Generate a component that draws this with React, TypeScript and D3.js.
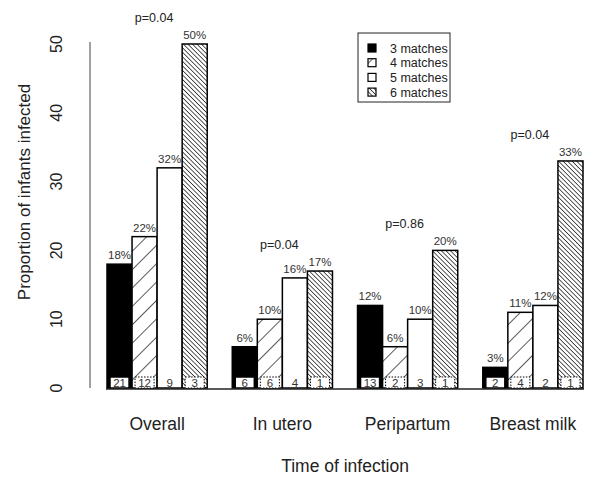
import React from "react";
import * as d3 from "d3";

const categories = ["Overall", "In utero", "Peripartum", "Breast milk"];
const seriesNames = ["3 matches", "4 matches", "5 matches", "6 matches"];
const values3 = [18, 6, 12, 3];
const values4 = [22, 10, 6, 11];
const values5 = [32, 16, 10, 12];
const values6 = [50, 17, 20, 33];
const counts3 = [21, 6, 13, 2];
const counts4 = [12, 6, 2, 4];
const counts5 = [9, 4, 3, 2];
const counts6 = [3, 1, 1, 1];
const pValues = ["p=0.04", "p=0.04", "p=0.86", "p=0.04"];
const yTicks = [0, 10, 20, 30, 40, 50];

const W = 600;
const H = 482;
const FONT = "'Liberation Sans', Arial, sans-serif";

export default function App() {
  const y = d3.scaleLinear().domain([0, 50]).range([388, 44]);
  const x0 = d3.scaleBand<string>().domain(categories).range([107, 583]).paddingInner(0.2).paddingOuter(0);
  const x1 = d3.scaleBand<string>().domain(seriesNames).range([0, x0.bandwidth()]).padding(0);
  const allValues = [values3, values4, values5, values6];
  const allCounts = [counts3, counts4, counts5, counts6];
  const fills = ["#000", "url(#hatch4)", "#fff", "url(#hatch6)"];
  const bw = x1.bandwidth();

  return (
    <svg width={W} height={H} style={{ position: "absolute", left: 0, top: 0, background: "#fff" }} fontFamily={FONT}>
      <defs>
        <pattern id="hatch4" patternUnits="userSpaceOnUse" width="13" height="13" patternTransform="rotate(45)">
          <rect width="13" height="13" fill="#fff" />
          <line x1="0" y1="0" x2="0" y2="13" stroke="#000" strokeWidth="1.3" />
        </pattern>
        <pattern id="hatch6" patternUnits="userSpaceOnUse" width="3.2" height="3.2" patternTransform="rotate(-45)">
          <rect width="3.2" height="3.2" fill="#fff" />
          <line x1="0" y1="0" x2="0" y2="3.2" stroke="#000" strokeWidth="1.3" />
        </pattern>
      </defs>

      {/* y axis */}
      <line x1={90} x2={90} y1={y(50) - 2} y2={y(0)} stroke="#444" strokeWidth={1} />
      {yTicks.map((t) => (
        <text key={t} transform={`translate(62,${y(t)}) rotate(-90)`} textAnchor="middle" fontSize={16} fill="#222">
          {t}
        </text>
      ))}
      <text transform={`translate(30,192) rotate(-90)`} textAnchor="middle" fontSize={17} fill="#222">
        Proportion of infants infected
      </text>

      {/* bars */}
      {categories.map((c, ci) => (
        <g key={c} transform={`translate(${x0(c)},0)`}>
          {seriesNames.map((s, si) => {
            const v = allValues[si][ci];
            const bx = x1(s)!;
            return (
              <g key={s}>
                <rect x={bx} y={y(v)} width={bw} height={y(0) - y(v)} fill={fills[si]} stroke="#000" strokeWidth={1.5} />
                <text x={bx + bw / 2} y={y(v) - 5} textAnchor="middle" fontSize={11.5} fill="#333">
                  {v}%
                </text>
                {si !== 2 && (
                  <rect
                    x={bx + 3}
                    y={y(0) - 11}
                    width={bw - 6}
                    height={11}
                    fill="#fff"
                    stroke="#000"
                    strokeWidth={si === 0 ? 1.5 : 1}
                    strokeDasharray={si === 0 ? undefined : "1.5,1.5"}
                  />
                )}
                <text x={bx + bw / 2} y={y(0) - 1.5} textAnchor="middle" fontSize={11.5} fill="#333">
                  {allCounts[si][ci]}
                </text>
              </g>
            );
          })}
          <text
            x={x0.bandwidth() / 2 - 3}
            y={y(d3.max(allValues, (arr) => arr[ci])!) - 22}
            textAnchor="middle"
            fontSize={12.5}
            fill="#222"
          >
            {pValues[ci]}
          </text>
          <text x={x0.bandwidth() / 2} y={430} textAnchor="middle" fontSize={17.5} fill="#222">
            {c}
          </text>
        </g>
      ))}
      <line x1={106} x2={584} y1={y(0) + 1} y2={y(0) + 1} stroke="#222" strokeWidth={1.5} />

      <text x={345} y={472} textAnchor="middle" fontSize={17.5} fill="#222">
        Time of infection
      </text>

      {/* legend */}
      <rect x={358} y={33} width={92} height={69} fill="#fff" stroke="#222" strokeWidth={1} />
      {seriesNames.map((s, i) => (
        <g key={s} transform={`translate(368,${48 + i * 14.7})`}>
          <rect x={0} y={-4} width={8} height={8} fill={fills[i]} stroke="#000" strokeWidth={1.2} />
          <text x={22} y={4.5} fontSize={12.5} fill="#222">
            {s}
          </text>
        </g>
      ))}
    </svg>
  );
}
